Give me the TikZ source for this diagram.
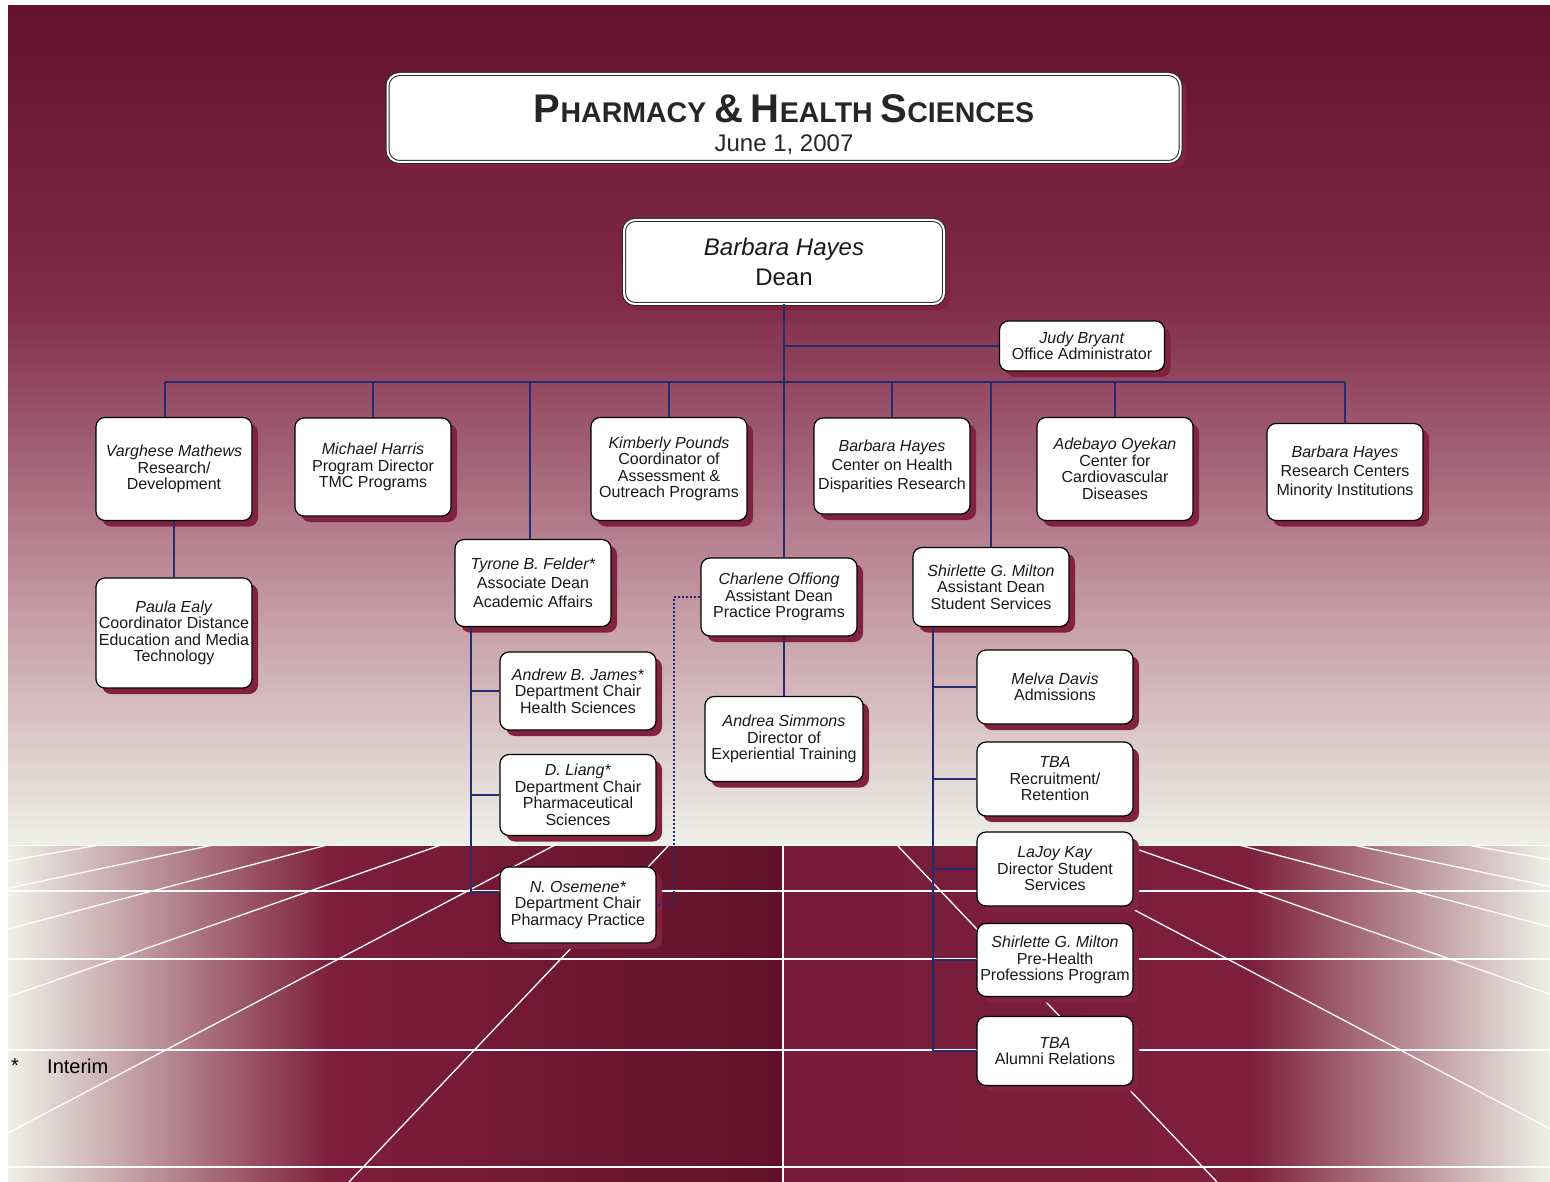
\documentclass[tikz,border=0pt]{standalone}
\usepackage{fontspec}
\setmainfont{Liberation Sans}
\usetikzlibrary{shadows}
\definecolor{wine}{RGB}{100,18,45}
\definecolor{winemid}{RGB}{128,42,72}
\definecolor{rose}{RGB}{195,150,162}
\definecolor{paper}{RGB}{238,240,232}
\definecolor{floorred}{RGB}{125,30,60}
\definecolor{floordark}{RGB}{98,17,42}
\definecolor{floorlight}{RGB}{118,28,58}
\definecolor{winedrop}{RGB}{128,34,64}
\definecolor{navy}{RGB}{35,45,110}
\newcommand{\capword}[2]{{\fontsize{40}{40}\selectfont #1}{\fontsize{28.5}{28.5}\selectfont #2}}

\begin{document}
\begin{tikzpicture}[x=1pt,y=-1pt,
  box/.style={draw=black, line width=1.2pt, fill=white, rounded corners=9pt, align=center,
    inner sep=0pt, text=black!90, font=\fontsize{16}{16.5}\selectfont, minimum width=156pt,
    drop shadow={shadow xshift=6pt, shadow yshift=-6pt, fill=winedrop, opacity=1}},
  loose/.style={font=\fontsize{16}{19}\selectfont},
  twoline/.style={double=white, double distance=2pt, line width=1pt, draw=black!85},
  link/.style={draw=navy, line width=1.6pt},
  dotlink/.style={draw=navy, line width=1.6pt, dash pattern=on 2pt off 2pt},
  floorline/.style={draw=white, line width=1.3pt}]
\useasboundingbox (0,0) rectangle (1550,1182);
% backdrop
\fill[white] (0,0) rectangle (1550,1182);
\shade[top color=wine, bottom color=winemid] (8,6) rectangle (1550,301);
\shade[top color=winemid, bottom color=rose] (8,300) rectangle (1550,601);
\shade[top color=rose, bottom color=paper] (8,600) rectangle (1550,845);
\shade[left color=paper, right color=floorred] (8,845) rectangle (331,1182);
\shade[left color=floorred, right color=floordark] (330,845) rectangle (783,1182);
\shade[left color=floorlight, right color=floorred] (783,845) rectangle (1251,1182);
\shade[left color=floorred, right color=paper] (1250,845) rectangle (1550,1182);
\begin{scope}
\clip (8,845) rectangle (1550,1182);
\draw[floorline] (8,845) -- (1550,845);
\draw[floorline] (8,891) -- (1550,891);
\draw[floorline] (8,959) -- (1550,959);
\draw[floorline] (8,1050) -- (1550,1050);
\draw[floorline] (8,1167) -- (1550,1167);
\draw[floorline] (99,845) -- (-1821,1182);
\draw[floorline] (213,845) -- (-1387,1182);
\draw[floorline] (327,845) -- (-953,1182);
\draw[floorline] (441,845) -- (-519,1182);
\draw[floorline] (555,845) -- (-85,1182);
\draw[floorline] (669,845) -- (349,1182);
\draw[floorline] (783,845) -- (783,1182);
\draw[floorline] (897,845) -- (1217,1182);
\draw[floorline] (1011,845) -- (1651,1182);
\draw[floorline] (1125,845) -- (2085,1182);
\draw[floorline] (1239,845) -- (2519,1182);
\draw[floorline] (1353,845) -- (2953,1182);
\draw[floorline] (1467,845) -- (3387,1182);
\end{scope}

% top
\node[box, twoline, minimum width=793pt, minimum height=88pt, rounded corners=12pt,
  font=\bfseries\fontsize{28.5}{27}\selectfont, text=black!85] (title) at (784,118)
  {\rule{0pt}{41pt}\capword{P}{HARMACY} \capword{\&}{} \capword{H}{EALTH} \capword{S}{CIENCES}\\[2pt]
   {\mdseries\fontsize{24}{24}\selectfont June 1, 2007}};
\node[box, twoline, minimum width=320pt, minimum height=84pt, rounded corners=11pt,
  font=\fontsize{24}{30}\selectfont] (dean) at (784,262) {\textit{Barbara Hayes}\\Dean};
\node[box, minimum width=165pt, minimum height=50pt] (jb) at (1082,346) {\textit{Judy Bryant}\\Office Administrator};

% first row
\node[box, minimum height=103pt] (vm) at (174,469) {\textit{Varghese Mathews}\\Research/\\Development};
\node[box, minimum height=98pt] (mh) at (373,467) {\textit{Michael Harris}\\Program Director\\TMC Programs};
\node[box, minimum height=103pt] (kp) at (669,469) {\textit{Kimberly Pounds}\\Coordinator of\\Assessment \&\\Outreach Programs};
\node[box, loose, minimum height=96pt] (bh2) at (892,466) {\textit{Barbara Hayes}\\Center on Health\\Disparities Research};
\node[box, minimum height=103pt] (ao) at (1115,469) {\textit{Adebayo Oyekan}\\Center for\\Cardiovascular\\Diseases};
\node[box, loose, minimum height=97pt] (bh3) at (1345,472) {\textit{Barbara Hayes}\\Research Centers\\Minority Institutions};
\node[box, minimum height=110pt] (pe) at (174,633) {\textit{Paula Ealy}\\Coordinator Distance\\Education and Media\\Technology};

% second row
\node[box, loose, minimum height=87pt] (tf) at (533,583) {\textit{Tyrone B. Felder*}\\Associate Dean\\Academic Affairs};
\node[box, minimum height=78pt] (co) at (779,597) {\textit{Charlene Offiong}\\Assistant Dean\\Practice Programs};
\node[box, minimum height=79pt] (sm) at (991,587) {\textit{Shirlette G. Milton}\\Assistant Dean\\Student Services};
\node[box, minimum width=158pt, minimum height=85pt] (as) at (784,739) {\textit{Andrea Simmons}\\Director of\\Experiential Training};

% academic affairs
\node[box, minimum height=78pt] (aj) at (578,691) {\textit{Andrew B. James*}\\Department Chair\\Health Sciences};
\node[box, minimum height=81pt] (dl) at (578,795) {\textit{D. Liang*}\\Department Chair\\Pharmaceutical\\Sciences};
\node[box, minimum height=76pt] (no) at (578,905) {\textit{N. Osemene*}\\Department Chair\\Pharmacy Practice};

% student services
\node[box, minimum height=74pt] (md) at (1055,687) {\textit{Melva Davis}\\Admissions};
\node[box, minimum height=74pt] (tr) at (1055,779) {\textit{TBA}\\Recruitment/\\Retention};
\node[box, minimum height=74pt] (lk) at (1055,869) {\textit{LaJoy Kay}\\Director Student\\Services};
\node[box, minimum height=73pt] (sp) at (1055,960) {\textit{Shirlette G. Milton}\\Pre-Health\\Professions Program};
\node[box, minimum height=69pt] (ta) at (1055,1051) {\textit{TBA}\\Alumni Relations};

\node[anchor=west, inner sep=0pt, font=\fontsize{20}{20}\selectfont] (star) at (11,1066) {*};
\node[anchor=west, inner sep=0pt, font=\fontsize{20}{20}\selectfont] (interim) at (47,1066) {Interim};

% lines
\coordinate (b1) at (165,382);
\coordinate (b2) at (373,382);
\coordinate (b3) at (530,382);
\coordinate (b4) at (669,382);
\coordinate (b5) at (892,382);
\coordinate (b6) at (991,382);
\coordinate (b7) at (1115,382);
\coordinate (b8) at (1345,382);
\coordinate (j0) at (783,346);
\coordinate (tv) at (471,627);
\coordinate (sv) at (933,627);
\coordinate (dv) at (674,750);
\draw[link](dean.south) -- (dean.south |- co.north);
\draw[link](j0) -- (jb.west);
\draw[link](b1) -- (b8);
\draw[link](b1) -- (b1 |- vm.north);
\draw[link](b2) -- (b2 |- mh.north);
\draw[link](b3) -- (b3 |- tf.north);
\draw[link](b4) -- (b4 |- kp.north);
\draw[link](b5) -- (b5 |- bh2.north);
\draw[link](b6) -- (b6 |- sm.north);
\draw[link](b7) -- (b7 |- ao.north);
\draw[link](b8) -- (b8 |- bh3.north);
\draw[link](vm.south) -- (pe.north);
\draw[link](as.north) -- (as.north |- co.south);
\draw[link](tv) |- ([yshift=13pt]no.west);
\draw[link](tv |- aj.west) -- (aj.west);
\draw[link](tv |- dl.west) -- (dl.west);
\draw[dotlink](co.west) -| (dv) |- (no.east);
\draw[link](sv) |- (ta.west);
\draw[link](sv |- md.west) -- (md.west);
\draw[link](sv |- tr.west) -- (tr.west);
\draw[link](sv |- lk.west) -- (lk.west);
\draw[link](sv |- sp.west) -- (sp.west);
\end{tikzpicture}
\end{document}
